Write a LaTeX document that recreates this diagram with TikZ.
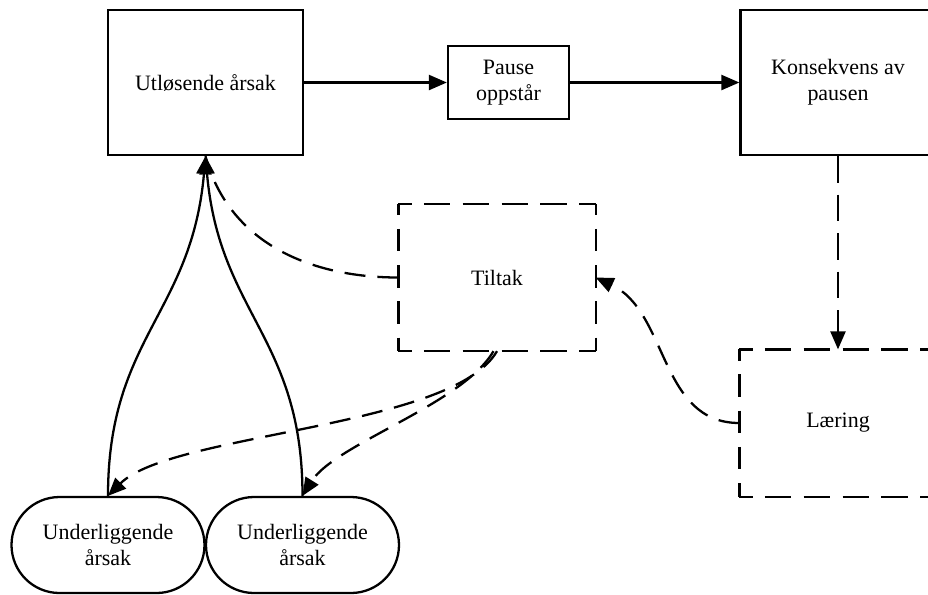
\documentclass[tikz,border=0pt]{standalone}
\usepackage{fontspec}
\setmainfont{Liberation Serif}
\usetikzlibrary{arrows.meta}

% dashed frame, each side starts and ends with half a dash
\newcommand{\dashframe}[1]{%
  \draw[dash pattern=on 0.53cm off 0.246cm, dash phase=0.265cm] (#1.north west) -- (#1.north east);
  \draw[dash pattern=on 0.53cm off 0.246cm, dash phase=0.265cm] (#1.south west) -- (#1.south east);
  \draw[dash pattern=on 0.45cm off 0.275cm, dash phase=0.225cm] (#1.north west) -- (#1.south west);
  \draw[dash pattern=on 0.45cm off 0.275cm, dash phase=0.225cm] (#1.north east) -- (#1.south east);
}

\begin{document}
\begin{tikzpicture}[
    font=\fontsize{12.5}{14.7}\selectfont,
    line width=1.3pt,
    >={Triangle[length=3.6mm, width=3mm]},
    box/.style={draw, align=center, minimum width=3.9cm, minimum height=2.9cm, inner sep=0pt},
    smallbox/.style={draw, align=center, minimum width=2.42cm, minimum height=1.46cm, inner sep=0pt},
    dashbox/.style={box, draw=none},
    pill/.style={draw, align=center, minimum width=3.86cm, minimum height=1.92cm, rounded corners=0.96cm, inner sep=0pt},
    dashline/.style={dash pattern=on 0.42cm off 0.24cm}
]
    %% Pause: årsak og konsekvens

    % Frame
    \useasboundingbox (0,0) rectangle (18.56,-11.88);

    % Main chain
    \node[box] (utl) at (4.11,-1.65) {Utløsende årsak};
    \node[smallbox] (pause) at (10.17,-1.65) {Pause\\oppstår};
    \node[box] (kons) at (16.76,-1.65) {Konsekvens av\\pausen};

    % Feedback
    \node[dashbox] (tiltak) at (9.94,-5.55) {Tiltak};
    \node[dashbox] (laering) at (16.76,-8.46) {Læring};
    \dashframe{tiltak}
    \dashframe{laering}

    % Underlying causes
    \node[pill] (und1) at (2.16,-10.9) {Underliggende\\årsak};
    \node[pill] (und2) at (6.05,-10.9) {Underliggende\\årsak};

    % Solid arrows
    \draw[->] (utl) -- (pause);
    \draw[->] (pause) -- (kons);
    \draw[->] (und1.north) to[out=90, in=-95, looseness=1.15] (utl.south);
    \draw[->] (und2.north) to[out=90, in=-85, looseness=1.15] (utl.south);

    % Dashed arrows
    \draw[->, dash pattern=on 0.53cm off 0.24cm] (kons.south) -- (laering.north);
    \draw[->, dashline] (laering.west) to[out=180, in=-25] (tiltak.east);
    \draw[dashline] (tiltak.west) to[out=180, in=-75] (utl.south);
    \draw[->, dashline] (tiltak.south) to[out=-120, in=45, looseness=0.55] (und1.north);
    \draw[->, dashline] ([xshift=-2pt]tiltak.south) to[out=-120, in=58, looseness=0.65] (und2.north);

\end{tikzpicture}
\end{document}
